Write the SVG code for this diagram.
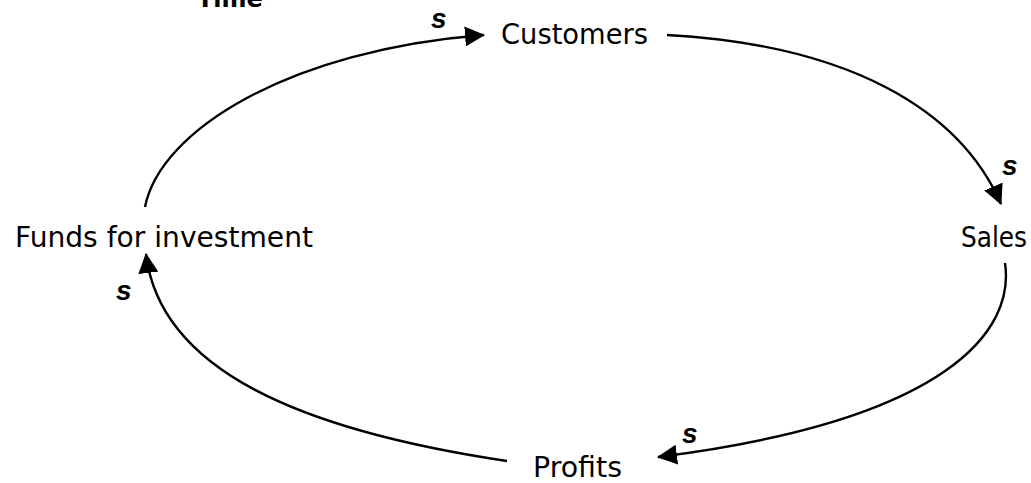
<svg xmlns="http://www.w3.org/2000/svg" width="1031" height="483" viewBox="0 0 1031 483">
  <style>
    .node { font-family: "DejaVu Sans", Verdana, sans-serif; font-size: 28px; fill: #000; }
    .title { font-family: "DejaVu Sans", Verdana, sans-serif; font-size: 24px; font-weight: bold; fill: #000; }
    .pol { font-family: "Liberation Sans", Arial, sans-serif; font-size: 28px; font-weight: bold; font-style: italic; fill: #000; }
    .link { fill: none; stroke: #000; stroke-width: 2.4; }
  </style>
  <defs>
    <marker id="arrow" viewBox="0 0 20 20" markerWidth="20" markerHeight="20" refX="19" refY="10" orient="auto" markerUnits="userSpaceOnUse">
      <path d="M0,0 L20,10 L0,20 z" fill="#000"/>
    </marker>
  </defs>
  <rect width="1031" height="483" fill="#fff"/>
  <g id="title"><text class="title" x="197" y="7">Time</text></g>
  <g id="connectors">
    <path class="link" d="M145,207 C160,130 290,50 484,35" marker-end="url(#arrow)"/>
    <path class="link" d="M667,35 C850,45 960,110 1001,204" marker-end="url(#arrow)"/>
    <path class="link" d="M1005,263 C1015,330 950,420 658,457" marker-end="url(#arrow)"/>
    <path class="link" d="M507,461 C300,430 160,370 146,254" marker-end="url(#arrow)"/>
    <text class="pol" x="431" y="28">s</text>
    <text class="pol" x="1002" y="175">s</text>
    <text class="pol" x="116" y="300">s</text>
    <text class="pol" x="682" y="443">s</text>
  </g>
  <g id="customers"><text class="node" x="501" y="44" textLength="147" lengthAdjust="spacingAndGlyphs">Customers</text></g>
  <g id="sales"><text class="node" x="961" y="247" textLength="66" lengthAdjust="spacingAndGlyphs">Sales</text></g>
  <g id="profits"><text class="node" x="533" y="477" textLength="89" lengthAdjust="spacingAndGlyphs">Profits</text></g>
  <g id="funds"><text class="node" x="15" y="247" textLength="298" lengthAdjust="spacingAndGlyphs">Funds for investment</text></g>
</svg>
